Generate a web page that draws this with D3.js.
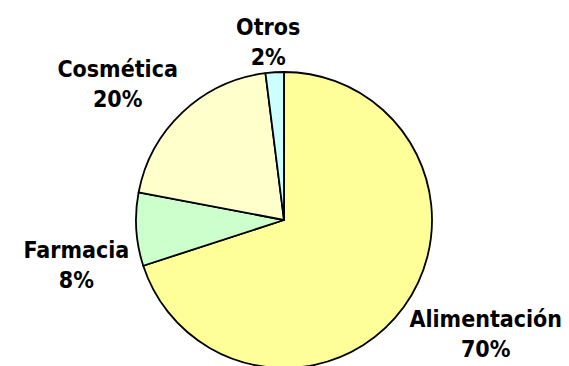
<!DOCTYPE html>
<html>
<head>
<meta charset="utf-8">
<script src="https://cdn.jsdelivr.net/npm/d3@7/dist/d3.min.js"></script>
<style>
  html, body { margin: 0; padding: 0; background: #ffffff; }
  svg { display: block; }
  .lbl { font-family: "DejaVu Sans Condensed", "DejaVu Sans", sans-serif; font-stretch: condensed; font-weight: bold; font-size: 23px; fill: #000; }
</style>
</head>
<body>
<svg id="chart" width="569" height="366"></svg>
<script>
// Sector shares (%), drawn clockwise from twelve o'clock
const categories = ["Alimentación", "Farmacia", "Cosmética", "Otros"];
const shares = [70, 8, 20, 2];
const fills = ["#FFFF99", "#CCFFCC", "#FFFFCC", "#CCFFFF"];
// extra vertical shift applied to individual labels
const labelShiftY = [0, 34, 0, 0];

const cx = 284, cy = 220, R = 148;
const labelGap = 7, lineGap = 30, capH = 16;

const svg = d3.select("#chart");
const g = svg.append("g").attr("transform", `translate(${cx},${cy})`);

const pie = d3.pie().sort(null).value(d => d.v).startAngle(0).endAngle(2 * Math.PI);
const data = categories.map((c, i) => ({ name: c, v: shares[i], fill: fills[i], i }));
const arcs = pie(data);

const arc = d3.arc().innerRadius(0).outerRadius(R);

g.selectAll("path.slice")
  .data(arcs)
  .enter().append("path")
  .attr("class", "slice")
  .attr("d", arc)
  .attr("fill", d => d.data.fill)
  .attr("stroke", "#000")
  .attr("stroke-width", 1.8)
  .attr("stroke-linejoin", "round");

// Labels: the corner of the text block facing the pie sits just outside the rim
const labels = g.selectAll("g.lbl")
  .data(arcs)
  .enter().append("g");

labels.each(function(d) {
  const grp = d3.select(this);
  const t1 = grp.append("text").attr("class", "lbl").attr("text-anchor", "middle").text(d.data.name);
  const t2 = grp.append("text").attr("class", "lbl").attr("text-anchor", "middle").text(d.data.v + "%");
  const w = Math.max(t1.node().getComputedTextLength(), t2.node().getComputedTextLength());
  const h = capH + lineGap;
  const a = (d.startAngle + d.endAngle) / 2;
  const s = Math.sin(a), c = -Math.cos(a);
  const px = (R + labelGap) * s, py = (R + labelGap) * c;
  let xc;
  if (Math.abs(s) < 0.2) xc = px + s * w * 1.5; else xc = px + Math.sign(s) * w / 2;
  let top;
  if (Math.abs(c) < 0.2) top = py - h / 2 + c * h / 2; else top = c > 0 ? py : py - h;
  top += labelShiftY[d.data.i];
  const b1 = top + capH;
  t1.attr("x", xc).attr("y", b1);
  t2.attr("x", xc).attr("y", b1 + lineGap);
});
</script>
</body>
</html>
